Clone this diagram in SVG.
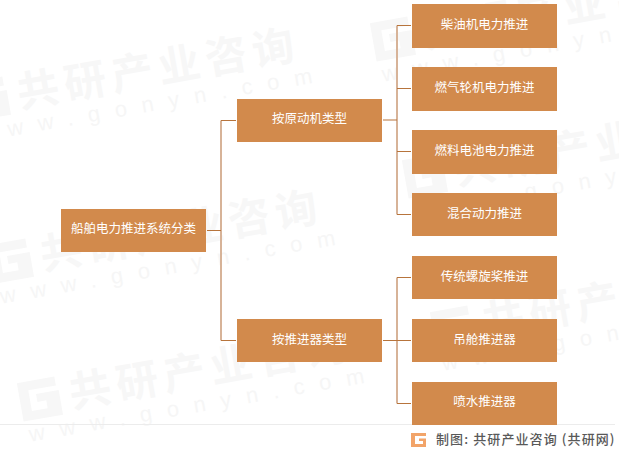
<svg xmlns="http://www.w3.org/2000/svg" width="619" height="450" viewBox="0 0 619 450">
<style>
.f{font-family:"Noto Sans CJK SC","Liberation Sans",sans-serif}
.wm{font-size:42px;font-weight:700;fill:#f7f7f7;letter-spacing:5.7px}
.wu{font-family:"Liberation Sans",sans-serif;font-size:22px;fill:#f6f6f6;letter-spacing:15px}
.wg{fill:#f7f7f7}
.b{fill:#d28a4c}
.t{font-size:12.500px;fill:#fff;text-anchor:middle}
.h{fill:none;stroke:#b7743c;stroke-width:1.200}
.v{fill:none;stroke:#d3ab8d;stroke-width:1.800}
</style>
<defs>
<path id="g" d="M-50 -34H-12V-25H-40V-4H-24V-12H-33V-20H-10V5H-50Z"/>
</defs>
<rect width="619" height="450" fill="#fff"/>
<g id="watermarks">
<g transform="translate(20,108) rotate(-10)"><use href="#g" class="wg"/><text class="f wm">共研产业咨询</text><text class="wu" x="-47" y="26">www.gonyn.com</text></g>
<g transform="translate(43,270) rotate(-10)"><use href="#g" class="wg"/><text class="f wm">共研产业咨询</text><text class="wu" x="-47" y="26">www.gonyn.com</text></g>
<g transform="translate(72,408) rotate(-10)"><use href="#g" class="wg"/><text class="f wm">共研产业咨询</text><text class="wu" x="-47" y="26">www.gonyn.com</text></g>
<g transform="translate(425,48) rotate(-10)"><use href="#g" class="wg"/><text class="f wm">共研产业咨询</text><text class="wu" x="-47" y="26">www.gonyn.com</text></g>
<g transform="translate(457,185) rotate(-10)"><use href="#g" class="wg"/><text class="f wm">共研产业咨询</text><text class="wu" x="-47" y="26">www.gonyn.com</text></g>
<g transform="translate(485,337) rotate(-10)"><use href="#g" class="wg"/><text class="f wm">共研产业咨询</text><text class="wu" x="-47" y="26">www.gonyn.com</text></g>
</g>
<g id="connectors">
<path class="v" d="M221 120.500V340.500"/>
<path class="v" d="M397 25.500V214.500"/>
<path class="v" d="M397 277.500V403.500"/>
<path class="h" d="M207 230.500H221M221 120.500H236M221 340.500H236"/>
<path class="h" d="M383 120H397M397 25.500H411M397 88.500H411M397 151.500H411M397 214.500H411"/>
<path class="h" d="M383 340.500H411M397 277.500H411M397 403.500H411"/>
</g>
<g id="root"><rect class="b" x="61" y="209" width="145" height="43"/><text class="f t" x="133.500" y="233">船舶电力推进系统分类</text></g>
<g id="n1"><rect class="b" x="237" y="99" width="145" height="43"/><text class="f t" x="309.500" y="123">按原动机类型</text></g>
<g id="n2"><rect class="b" x="237" y="319" width="145" height="43"/><text class="f t" x="309.500" y="344">按推进器类型</text></g>
<g id="a1"><rect class="b" x="412" y="4" width="145" height="44"/><text class="f t" x="484.500" y="29">柴油机电力推进</text></g>
<g id="a2"><rect class="b" x="412" y="67" width="145" height="44"/><text class="f t" x="484.500" y="92">燃气轮机电力推进</text></g>
<g id="a3"><rect class="b" x="412" y="130" width="145" height="44"/><text class="f t" x="484.500" y="155">燃料电池电力推进</text></g>
<g id="a4"><rect class="b" x="412" y="193" width="145" height="43"/><text class="f t" x="484.500" y="218">混合动力推进</text></g>
<g id="b1"><rect class="b" x="412" y="256" width="145" height="43"/><text class="f t" x="484.500" y="281">传统螺旋桨推进</text></g>
<g id="b2"><rect class="b" x="412" y="319" width="145" height="43"/><text class="f t" x="484.500" y="344">吊舱推进器</text></g>
<g id="b3"><rect class="b" x="412" y="382" width="145" height="43"/><text class="f t" x="484.500" y="406">喷水推进器</text></g>
<g id="footer">
<path d="M0 424.500H412M557 424.500H615" stroke="#ececec" fill="none"/>
<path d="M411 433H426V436H415V444H423V441H419V438.500H426V447H411Z" fill="#f2a469"/>
<text class="f" x="436" y="444" font-size="13" font-weight="500" letter-spacing="1.100" fill="#595959">制图: 共研产业咨询 (共研网)</text>
</g>
</svg>
